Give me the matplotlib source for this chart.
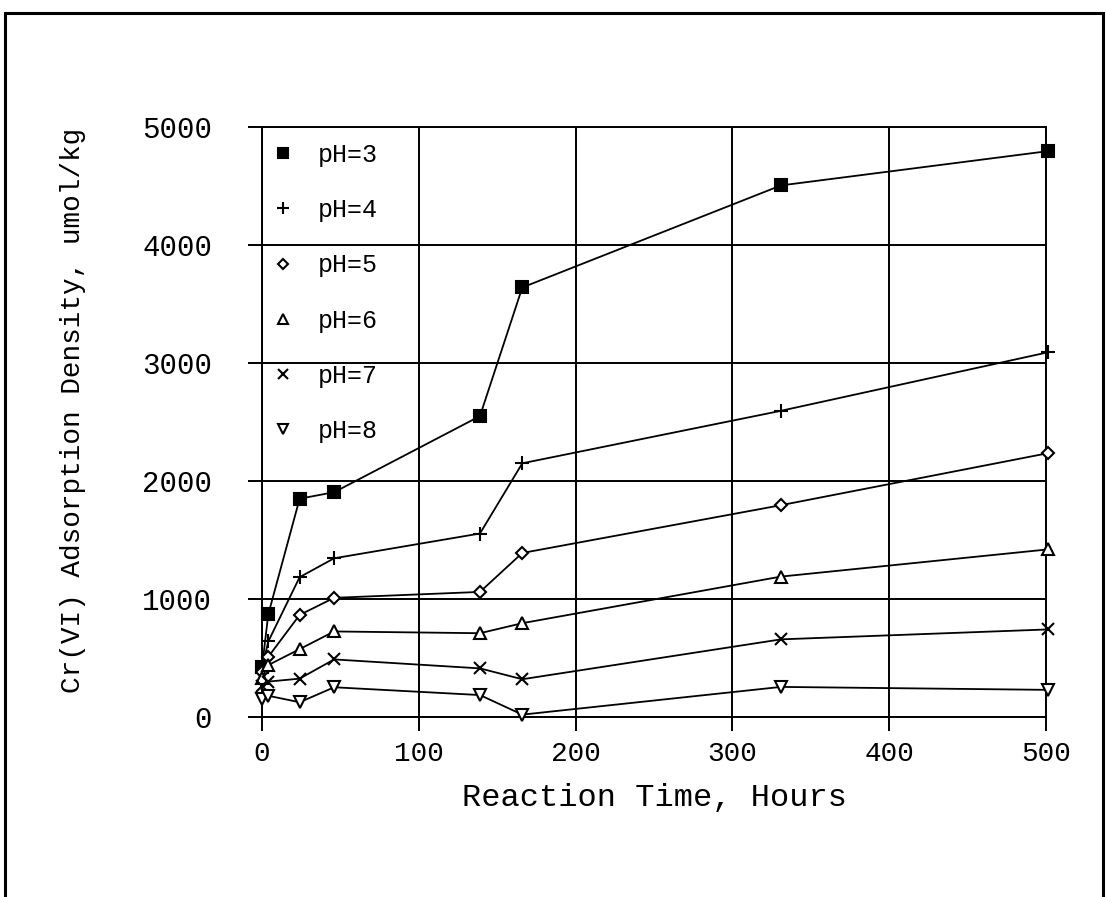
import matplotlib
matplotlib.use('Agg')
import matplotlib.pyplot as plt
from matplotlib.lines import Line2D
from matplotlib.patches import Rectangle

# reaction time, hours
hours = [0, 4, 24, 46, 139, 166, 331, 501]

ph3 = [420, 870, 1850, 1905, 2550, 3640, 4505, 4795]
ph4 = [410, 640, 1185, 1345, 1555, 2150, 2595, 3090]
ph5 = [380, 510, 865, 1010, 1060, 1390, 1795, 2235]
ph6 = [330, 440, 575, 725, 710, 795, 1190, 1420]
ph7 = [260, 300, 325, 488, 412, 320, 658, 742]
ph8 = [150, 180, 125, 252, 186, 20, 255, 230]

labels = ['pH=3', 'pH=4', 'pH=5', 'pH=6', 'pH=7', 'pH=8']
series = [ph3, ph4, ph5, ph6, ph7, ph8]
markers = ['s', '+', 'D', '^', 'x', 'v']
sizes = [9, 10, 6, 8, 9, 8]
filled = [True, False, False, False, False, False]

mono = ['Liberation Mono', 'DejaVu Sans Mono']
plt.rcParams['font.family'] = mono

fig = plt.figure(figsize=(11.06, 8.97), dpi=100)
ax = fig.add_axes([262/1106, 1 - 717/897, 784/1106, 590/897])

handles = []
for y, lab, m, s, f in zip(series, labels, markers, sizes, filled):
    fc = 'black' if f else 'white'
    ax.plot(hours, y, color='black', lw=1.3, marker=m, ms=s,
            mfc=fc, mec='black', mew=1.5, clip_on=False, zorder=3)
    handles.append(Line2D([], [], ls='none', marker=m, ms=s * 0.85,
                          mfc=fc, mec='black', mew=1.5, label=lab))

ax.set_xlim(0, 500)
ax.set_ylim(0, 5000)
ax.set_xticks([0, 100, 200, 300, 400, 500])
ax.set_yticks([0, 1000, 2000, 3000, 4000, 5000])
ax.grid(True, color='black', lw=1.4)
ax.tick_params(direction='out', length=10, width=1.4)
ax.tick_params(axis='x', labelsize=20, pad=7)
ax.tick_params(axis='y', labelsize=21, pad=26)
for sp in ax.spines.values():
    sp.set_linewidth(1.4)

ax.set_xlabel('Reaction Time, Hours', fontsize=23, labelpad=12)
ax.set_ylabel('Cr(VI) Adsorption Density, umol/kg', fontsize=20)
ax.yaxis.set_label_coords(-0.224, 0.52)

ax.legend(handles=handles, loc='upper left', frameon=False,
          prop={'family': mono, 'size': 18},
          labelspacing=1.25, handlelength=0.9, handletextpad=0.95,
          borderaxespad=0.0, bbox_to_anchor=(0.0, 0.99))

# outer frame of the scanned page
fig.patches.append(Rectangle((5/1106, -0.1), 1098/1106, 1.1 - 13/897,
                             transform=fig.transFigure, fill=False,
                             edgecolor='black', lw=2.2))

fig.savefig('out.png', dpi=100)
